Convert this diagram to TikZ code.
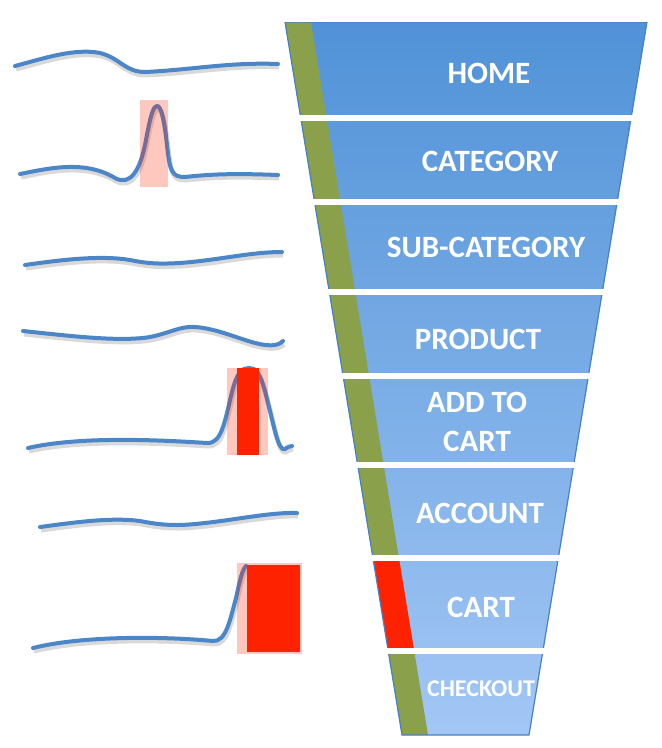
\documentclass[tikz,border=0pt]{standalone}
\usepackage{fontspec}
\setmainfont{Carlito}
\usepackage{tikz}
\usetikzlibrary{positioning}
\definecolor{funtop}{RGB}{80,146,215}
\definecolor{funbot}{RGB}{163,199,245}
\definecolor{funedge}{RGB}{70,128,200}
\definecolor{stripc}{RGB}{138,160,75}
\definecolor{hotred}{RGB}{255,34,0}
\definecolor{wavec}{RGB}{74,134,200}
\tikzset{wave/.style = {draw=wavec, line width=4, line cap=round,
    preaction={draw=black, opacity=0.15, line width=5,
      transform canvas={xshift=1pt, yshift=-3pt}}}}
\tikzset{lbl/.style = {text=white, font=\fontsize{31}{39}\selectfont\bfseries, align=center}}
\tikzset{halo/.style = {fill=hotred, opacity=0.25}}
\tikzset{gap/.style = {draw=white, line width=6}}

\begin{document}
\begin{tikzpicture}[x=1pt, y=-1pt]
          \useasboundingbox (0, 0) rectangle (662, 748);

          % funnel
          \shade [top color=funtop, bottom color=funbot]
            (285, 22) -- (647, 22) -- (529, 735) -- (402, 735) -- cycle;
          \fill [stripc] (285, 22) -- (311, 22) -- (428, 735) -- (402, 735) -- cycle;
          \fill [hotred] (373.4, 561) -- (399.4, 561) -- (413.7, 648) -- (387.7, 648) -- cycle;
          \draw [funedge, line width=1.2]
            (285, 22) -- (647, 22) -- (529, 735) -- (402, 735) -- cycle;

          \draw [gap] (280, 117.5) -- (650, 117.5);
          \draw [gap] (280, 201.5) -- (650, 201.5);
          \draw [gap] (280, 291.5) -- (650, 291.5);
          \draw [gap] (280, 375.5) -- (650, 375.5);
          \draw [gap] (280, 464.5) -- (650, 464.5);
          \draw [gap] (280, 557.5) -- (650, 557.5);
          \draw [gap] (280, 651) -- (650, 651);
          \draw [white, line width=2] (280, 21) -- (650, 21);

          \node [lbl] (home) at (489, 73) {HOME};
          \node [lbl] (category) at (490, 161) {CATEGORY};
          \node [lbl] (subcat) at (486, 247) {SUB-CATEGORY};
          \node [lbl] (product) at (478, 339) {PRODUCT};
          \node [lbl] (addcart) at (477, 422) {ADD TO\\CART};
          \node [lbl] (account) at (480, 513) {ACCOUNT};
          \node [lbl] (cart) at (481, 607) {CART};
          \node [lbl, font=\fontsize{24}{30}\selectfont\bfseries] (checkout) at (481, 689) {CHECKOUT};

          % traffic waves
          \draw [wave] (15, 66) .. controls (45, 58) and (75, 48) .. (100, 53)
            .. controls (120, 58) and (125, 72) .. (145, 72)
            .. controls (190, 70) and (230, 62) .. (278, 64);

          \draw [wave] (20, 174) .. controls (50, 168) and (85, 160) .. (115, 178)
            .. controls (130, 186) and (140, 172) .. (146, 140)
            .. controls (151, 112) and (154, 106) .. (157, 106)
            .. controls (161, 106) and (164, 118) .. (167, 145)
            .. controls (170, 172) and (172, 177) .. (185, 177)
            .. controls (220, 173) and (250, 174) .. (278, 175);
          \fill [halo] (140, 100) rectangle (168, 187);

          \draw [wave] (25, 265) .. controls (60, 260) and (100, 255) .. (130, 260)
            .. controls (150, 264) and (160, 264) .. (180, 263)
            .. controls (220, 260) and (250, 252) .. (282, 252);

          \draw [wave] (23, 331) .. controls (70, 336) and (120, 342) .. (150, 337)
            .. controls (170, 333) and (180, 326) .. (195, 327)
            .. controls (225, 329) and (255, 348) .. (275, 345)
            .. controls (280, 344) and (282, 342) .. (283, 341);

          \draw [wave] (28, 448) .. controls (80, 436) and (160, 440) .. (207, 443)
            .. controls (222, 444) and (225, 420) .. (232, 392)
            .. controls (237, 372) and (242, 368) .. (249, 368)
            .. controls (256, 368) and (260, 372) .. (266, 395)
            .. controls (274, 425) and (278, 452) .. (285, 449)
            .. controls (288, 447) and (290, 446) .. (292, 446);
          \fill [halo] (227, 368) rectangle (268, 455);
          \fill [hotred] (237, 368) rectangle (259, 455);

          \draw [wave] (40, 527) .. controls (70, 523) and (110, 517) .. (140, 521)
            .. controls (160, 525) and (175, 526) .. (195, 524)
            .. controls (230, 521) and (270, 512) .. (297, 513);

          \draw [wave] (33, 648) .. controls (80, 636) and (160, 636) .. (213, 641)
            .. controls (226, 642) and (230, 620) .. (236, 598)
            .. controls (240, 580) and (242, 570) .. (246, 566);
          \fill [halo] (237, 563) rectangle (302, 654);
          \fill [hotred] (247, 565) rectangle (300, 652);
        \end{tikzpicture}
\end{document}
